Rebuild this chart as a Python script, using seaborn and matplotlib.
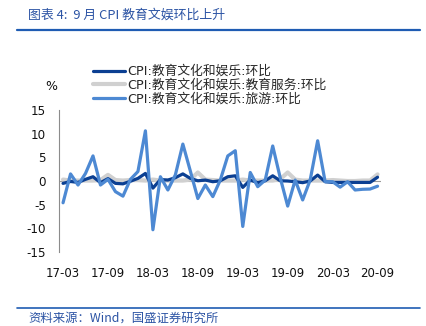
import numpy as np
import pandas as pd
import matplotlib
matplotlib.use("Agg")
import matplotlib.pyplot as plt
import seaborn as sns
from matplotlib.lines import Line2D

sns.set_style("white")
plt.rcParams['font.family'] = ['DejaVu Sans', 'Noto Sans CJK SC']

# ---- data (monthly, 2017-03 .. 2020-09) ----
months = pd.period_range("2017-03", "2020-09", freq="M").strftime("%y-%m").tolist()
tick_labels = ["17-03", "17-09", "18-03", "18-09", "19-03", "19-09", "20-03", "20-09"]

edu_culture = [-0.5, -0.1, -0.3, 0.35, 0.9, -0.35, 0.5, -0.5, -0.6, -0.05,
               0.55, 1.6, -1.5, 0.3, 0.2, 0.7, 1.5, 0.55, 0.05, 0.2,
               -0.15, 0.05, 0.9, 1.1, -1.35, 0.2, -0.35, 0.05, 1.1, 0.05,
               0.0, -0.15, -0.35, 0.0, 1.25, -0.15, -0.3, -0.3, -0.3, -0.3,
               -0.3, -0.3, 0.8]
edu_services = [0.3, 0.1, 0.1, 0.1, 0.1, 0.2, 1.3, 0.2, 0.1, 0.2,
                0.2, 0.1, 0.3, 0.1, 0.1, 0.1, 0.1, 0.3, 1.8, 0.3,
                0.2, 0.1, 0.1, 0.1, 0.3, 0.1, 0.1, 0.1, 0.1, 0.4,
                1.8, 0.3, 0.1, 0.1, 0.1, 0.1, 0.2, 0.1, 0.0, 0.0,
                0.1, 0.1, 1.4]
travel = [-4.6, 1.5, -0.85, 1.6, 5.3, -0.85, 0.35, -2.25, -3.2, 0.35,
          2.0, 10.6, -10.3, 0.9, -1.9, 1.3, 7.8, 2.1, -3.7, -0.85,
          -3.3, 0.2, 5.3, 6.4, -9.6, 1.8, -1.2, 0.2, 7.4, 0.7,
          -5.3, 0.2, -4.0, 0.2, 8.5, -0.15, -0.15, -1.3, -0.15, -1.9,
          -1.75, -1.7, -1.1]

names = ["CPI:教育文化和娱乐:环比",
         "CPI:教育文化和娱乐:教育服务:环比",
         "CPI:教育文化和娱乐:旅游:环比"]
colors = ["#0b3f92", "#d0d0d0", "#4d89d3"]

df = pd.DataFrame({"idx": np.arange(len(months)), "month": months,
                   names[0]: edu_culture, names[1]: edu_services, names[2]: travel})

W, H = 426, 326
fig = plt.figure(figsize=(W / 100, H / 100), dpi=100)
ax = fig.add_axes([59.3 / W, 1 - 252 / H, (381.3 - 59.3) / W, 142 / H])

# x-axis line at zero
ax.axhline(0, color="#9a9a9a", lw=0.8, zorder=1)

sns.lineplot(data=df, x="idx", y=names[1], color=colors[1], lw=3.0, ax=ax, zorder=2)
sns.lineplot(data=df, x="idx", y=names[0], color=colors[0], lw=2.3, ax=ax, zorder=3)
sns.lineplot(data=df, x="idx", y=names[2], color=colors[2], lw=2.3, ax=ax, zorder=4)

ax.set_xlim(-0.5, len(months) - 0.5)
ax.set_ylim(-15, 15)
ax.set_yticks([15, 10, 5, 0, -5, -10, -15])
ax.set_yticklabels(["15", "10", "5", "0", "-5", "-10", "-15"])
ax.set_xticks([months.index(t) for t in tick_labels])
ax.set_xticklabels(tick_labels)
ax.set_xlabel("")
ax.set_ylabel("")

for s in ["top", "right", "bottom"]:
    ax.spines[s].set_visible(False)
ax.spines["left"].set_color("#8c8c8c")
ax.spines["left"].set_linewidth(0.8)
ax.tick_params(axis="y", direction="out", length=2.5, width=0.8, color="#8c8c8c",
               labelsize=8.6, pad=7, labelcolor="#111111")
ax.tick_params(axis="x", length=0, labelsize=8.5, pad=11, labelcolor="#111111")
ax.grid(False)

# legend
handles = [Line2D([], [], color=c, lw=2.3 if i != 1 else 3.0) for i, c in enumerate(colors)]
fig.legend(handles, names, loc="upper left", bbox_to_anchor=(93 / W, 1 - 65 / H),
           frameon=False, fontsize=9.2, handlelength=2.5, handletextpad=0.2,
           labelspacing=0.07, borderpad=0, borderaxespad=0)

fig.text(51 / W, 1 - 87 / H, "%", ha="center", va="center", fontsize=9, color="#111111")

# title & footer
blue = "#2b53a4"
fig.text(28 / W, 1 - 15 / H, "图表 4:  9 月 CPI 教育文娱环比上升", ha="left", va="center",
         fontsize=9.3, color=blue, style="italic",
         family=["Noto Sans CJK SC", "DejaVu Sans"])
fig.add_artist(Line2D([17 / W, 420 / W], [1 - 30 / H, 1 - 30 / H], color="#1f5cb3", lw=1.6))
fig.add_artist(Line2D([17 / W, 420 / W], [1 - 308 / H, 1 - 308 / H], color="#1f5cb3", lw=1.2))
fig.text(28 / W, 1 - 318 / H, "资料来源：Wind，国盛证券研究所", ha="left", va="center",
         fontsize=8.9, color=blue, style="italic",
         family=["Noto Sans CJK SC", "DejaVu Sans"])

fig.savefig("out.png", dpi=100)
